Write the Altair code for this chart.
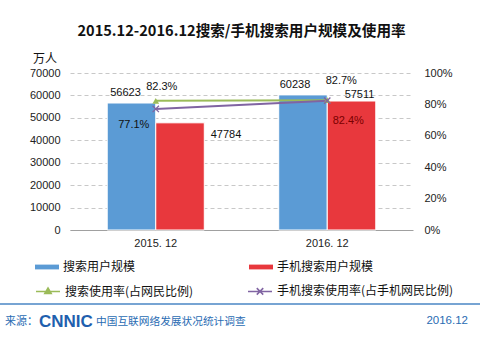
import altair as alt
import pandas as pd

# ---------------- data ----------------
periods = ["2015. 12", "2016. 12"]
bar_series = ["搜索用户规模", "手机搜索用户规模"]
search_users = [56623, 60238]
mobile_users = [47784, 57511]
line_series = ["搜索使用率(占网民比例)", "手机搜索使用率(占手机网民比例)"]
search_rate = [0.823, 0.827]
mobile_rate = [0.771, 0.824]

bars_df = pd.DataFrame({
    "period": periods * 2,
    "series": [bar_series[0]] * 2 + [bar_series[1]] * 2,
    "value": search_users + mobile_users,
})
lines_df = pd.DataFrame({
    "period": periods * 2,
    "series": [line_series[0]] * 2 + [line_series[1]] * 2,
    "rate": search_rate + mobile_rate,
})
one_df = pd.DataFrame({"k": [0]})

# ---------------- styles ----------------
NUM = "Liberation Sans, Noto Sans CJK SC, sans-serif"
CJK = "Noto Sans CJK SC, sans-serif"
BLUE, RED = "#5b9bd5", "#e8383d"
GREEN, PURPLE = "#9bbb59", "#8064a2"
FOOT = "#2a6cb3"
NOVIEW = alt.ViewBackground(stroke="transparent", strokeWidth=0)

x_scale = alt.Scale(domain=periods, paddingInner=0.434, paddingOuter=0.217)
x_axis = alt.Axis(labelFont=NUM, labelFontSize=11, labelColor="#222",
                  domainColor="#a0a0a0", ticks=False, labelPadding=7,
                  labelAngle=0, grid=False, title=None)
xo_enc = alt.XOffset("series:N", scale=alt.Scale(domain=bar_series, paddingInner=0, paddingOuter=0))
yb_scale = alt.Scale(domain=[0, 70000], nice=False)
yl_scale = alt.Scale(domain=[0, 1], nice=False)

yb_axis = alt.Axis(values=list(range(0, 70001, 10000)), format="d", labelFont=NUM,
                   labelFontSize=11, labelColor="#222", labelPadding=10,
                   domain=False, ticks=False, gridDash=[4, 3], grid=True,
                   gridColor="#c8c8c8", title=None)
yl_axis = alt.Axis(orient="right", format=".0%", values=[0, 0.2, 0.4, 0.6, 0.8, 1.0],
                   labelFont=NUM, labelFontSize=11, labelColor="#222",
                   labelPadding=11, domain=False, ticks=False, grid=False, title=None)

def X():
    return alt.X("period:N", scale=x_scale, axis=x_axis)

def YB():
    return alt.Y("value:Q", scale=yb_scale, axis=yb_axis)

def YL():
    return alt.Y("rate:Q", scale=yl_scale, axis=yl_axis)

legend_common = dict(orient="none", direction="horizontal", columns=2, title=None,
                     labelFont=CJK, labelFontSize=12, labelColor="#111",
                     labelLimit=300, padding=0, labelOffset=4, rowPadding=0)

bars = alt.Chart(bars_df).mark_bar(stroke="white", strokeWidth=1).encode(
    x=X(), xOffset=xo_enc, y=YB(),
    color=alt.Color("series:N", scale=alt.Scale(domain=bar_series, range=[BLUE, RED]),
                    legend=alt.Legend(legendX=-35, legendY=182, columnPadding=113,
                                      symbolType="M-1,-0.2H1V0.2H-1Z", symbolSize=576,
                                      symbolStrokeWidth=0, **legend_common)),
)

bar_label_offsets = {
    (periods[0], bar_series[0]): (-6, -10, "#111"),
    (periods[0], bar_series[1]): (46, 12, "#111"),
    (periods[1], bar_series[0]): (-8, -10, "#111"),
    (periods[1], bar_series[1]): (8, -6, "#111"),
}
bar_layers = [bars]
for (p, s), (dx, dy, col) in bar_label_offsets.items():
    bar_layers.append(
        alt.Chart(bars_df).transform_filter(
            (alt.datum.period == p) & (alt.datum.series == s)
        ).mark_text(font=NUM, fontSize=11, dx=dx, dy=dy, color=col, baseline="middle").encode(
            x=X(), xOffset=xo_enc, y=YB(),
            text=alt.Text("value:Q", format="d"),
        )
    )
bar_part = alt.layer(*bar_layers).properties(view=NOVIEW)

TRI_PATH = "M-1,0H1M0,-0.3L0.27,0.17L-0.27,0.17Z"
X_PATH = "M-1,0H1M-0.27,-0.27L0.27,0.27M-0.27,0.27L0.27,-0.27"

line_leg = alt.Legend(legendX=-35, legendY=205, columnPadding=51, symbolSize=576,
                      symbolStrokeWidth=1.5, **legend_common)

line_layers = []
for s, col in zip(line_series, [GREEN, PURPLE]):
    line_layers.append(
        alt.Chart(lines_df).transform_filter(alt.datum.series == s).mark_line(
            strokeWidth=2, color=col).encode(x=X(), y=YL())
    )
tri = alt.Chart(lines_df).transform_filter(alt.datum.series == line_series[0]).mark_point(
    shape="triangle-up", filled=True, size=45, color=GREEN, opacity=1).encode(
    x=X(), y=YL(),
)
xmark = alt.Chart(lines_df).transform_filter(alt.datum.series == line_series[1]).mark_point(
    shape="M-1,-1L1,1M-1,1L1,-1", filled=False, size=40, strokeWidth=1.3,
    color=PURPLE, opacity=1).encode(
    x=X(), y=YL(),
)
# legend-only layer (draws nothing; provides the line/marker legend)
legend_pts = alt.Chart(lines_df).transform_filter(alt.datum.rate < 0).mark_point(
    filled=True, opacity=1, strokeWidth=1.5).encode(
    x=X(), y=YL(),
    fill=alt.Fill("series:N", scale=alt.Scale(domain=line_series, range=[GREEN, PURPLE]),
                  legend=line_leg),
    stroke=alt.Stroke("series:N", scale=alt.Scale(domain=line_series, range=[GREEN, PURPLE]),
                      legend=line_leg),
    shape=alt.Shape("series:N", scale=alt.Scale(domain=line_series, range=[TRI_PATH, X_PATH]),
                    legend=line_leg),
)
line_layers += [tri, xmark, legend_pts]

rate_label_offsets = {
    (periods[0], line_series[0]): (6, -14, "#111"),
    (periods[0], line_series[1]): (-22, 16, "#111"),
    (periods[1], line_series[0]): (14, -19, "#111"),
    (periods[1], line_series[1]): (21, 20, "#7a0000"),
}
for (p, s), (dx, dy, col) in rate_label_offsets.items():
    line_layers.append(
        alt.Chart(lines_df).transform_filter(
            (alt.datum.period == p) & (alt.datum.series == s)
        ).mark_text(font=NUM, fontSize=11, dx=dx, dy=dy, color=col, baseline="middle").encode(
            x=X(), y=YL(),
            text=alt.Text("rate:Q", format=".1%"),
        )
    )
line_part = alt.layer(*line_layers).properties(view=NOVIEW)

# unit label and footer
unit_txt = alt.Chart(one_df).mark_text(text="万人", font=CJK, fontSize=12, color="#111",
                                       align="left", baseline="middle").encode(
    x=alt.value(-37), y=alt.value(-14))
foot_rule = alt.Chart(one_df).mark_rule(color="#4a86c5", strokeWidth=1.5).encode(
    x=alt.value(-70), x2=alt.value(410), y=alt.value(231))
foot1 = alt.Chart(one_df).mark_text(text="来源：", font=CJK, fontSize=11, color=FOOT,
                                    align="left", baseline="middle").encode(
    x=alt.value(-65), y=alt.value(249))
foot2 = alt.Chart(one_df).mark_text(text="CNNIC", font="Liberation Sans", fontSize=17,
                                    fontWeight="bold", color="#1f5fae",
                                    align="left", baseline="middle").encode(
    x=alt.value(-31), y=alt.value(249))
foot3 = alt.Chart(one_df).mark_text(text="中国互联网络发展状况统计调查", font=CJK, fontSize=10.7,
                                    color=FOOT, align="left", baseline="middle").encode(
    x=alt.value(26), y=alt.value(249))
foot4 = alt.Chart(one_df).mark_text(text="2016.12", font=NUM, fontSize=11.5, color=FOOT,
                                    align="right", baseline="middle").encode(
    x=alt.value(398), y=alt.value(248))

chart = alt.layer(bar_part, line_part, unit_txt, foot_rule, foot1, foot2, foot3, foot4).resolve_scale(
    y="independent"
).properties(
    width=343, height=157,
    padding={"left": 70, "top": 73, "right": 69, "bottom": 110},
    autosize=alt.AutoSizeParams(type="none"),
    background="white",
    view=NOVIEW,
    title=alt.Title("2015.12-2016.12搜索/手机搜索用户规模及使用率", font=CJK, fontSize=14.6,
                    fontWeight="bold", color="#111", anchor="middle", offset=14),
).configure_view(strokeWidth=0, stroke="transparent").configure_axisY(
    domain=False, ticks=False
).configure_axisLeft(domain=False).configure_axisRight(domain=False)

chart.save("out.html", embed_options={"renderer": "svg", "actions": False})
